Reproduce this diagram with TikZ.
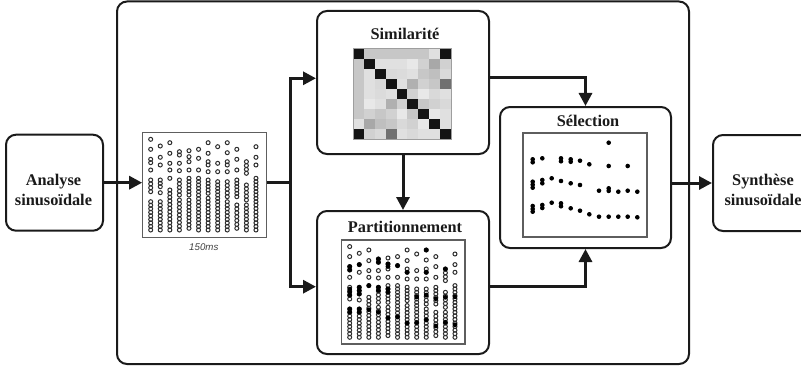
\documentclass[tikz,border=0pt]{standalone}
\usepackage{fontspec}
\setmainfont{Liberation Serif}
\newfontfamily\labelsans{Liberation Sans}
\usetikzlibrary{arrows.meta}
\definecolor{ink}{HTML}{1A1A1A}
\definecolor{framegray}{HTML}{5E5E5E}
\definecolor{dotgray}{HTML}{2E2E2E}
\tikzset{
  block/.style={draw=ink, line width=2pt, rounded corners=10pt, fill=white, inner sep=0pt},
  blocktitle/.style={font=\fontsize{16.3}{19.5}\selectfont\bfseries, text=ink, inner sep=0pt},
  conn/.style={draw=ink, line width=3pt, -{Triangle[length=13pt,width=13pt]}, line join=miter},
  imgframe/.style={draw=framegray, line width=1.1pt, fill=white, inner sep=0pt},
  spot/.style={draw=dotgray, line width=1pt},
  fullspot/.style={fill=black},
}
\newcommand{\specdots}[2]{%
 \foreach \c/\L in {
  1/{6.6/6.6,16.6/16.6,26.6/30,37.3/37.3,47.3/59,69/97.3},
  2/{13.3/13.3,24.6/24.6,32.3/32.3,47.3/54,60/60,69/97.3},
  3/{10/10,20.6/20.6,30.6/30.6,37.3/37.3,45.6/45.6,57.3/97.3},
  4/{19/22.3,30.6/30.6,38/38,47.3/62.3,67.3/97.3},
  5/{18/18,24/29,37.3/37.3,45.6/62.3,67.3/95.6},
  6/{16.6/16.6,25.6/25.6,37.3/37.3,45.6/55.6,59/97.3},
  7/{10/10,20.6/20.6,29/32.3,39/39,47.3/60.6,65.6/97.3},
  8/{14/14,30.6/30.6,39/39,49/69,72.3/97.3},
  9/{10/10,20/20,29/32.3,39/39,49/64,69/97.3},
  10/{16.6/16.6,26.6/26.6,37.3/37.3,47.3/64,72.3/95.6},
  11/{29/40.6,52.3/67.3,72.3/97.3},
  12/{14/14,24.6/24.6,32.3/32.3,45.6/69,72.3/97.3}}{%
   \foreach \a/\b in \L {%
     \pgfmathtruncatemacro{\n}{round((\b-\a)/3.6)}%
     \foreach \k in {0,...,\n}{%
       \pgfmathsetmacro{\yy}{\a+\k*(\b-\a)/max(\n,1)}%
       \draw[spot] (#1+8+9.57*\c-9.57, #2+\yy) circle[radius=2pt];
     }}}}
\newcommand{\partfill}[2]{%
 \foreach \c/\y in {1/26.6,1/30,1/49.2,1/52.2,1/55.2,1/69,1/72,
   2/24.6,2/47.3,2/50.6,2/54,2/69,2/72,
   3/45.6,3/69.7,
   4/19,4/22.3,4/47.3,4/50.3,4/72.3,
   5/24,5/26.5,5/49,5/52,5/78,
   6/25.6,6/77,
   7/32.3,7/83,
   8/57,8/82.5,
   9/10,9/32.3,9/55,9/80,
   10/58.7,10/86,
   11/29,11/57.3,11/82.3,
   12/56.8,12/84.7}{%
   \fill[fullspot] (#1+8+9.57*\c-9.57, #2+\y) circle[radius=2.4pt];
 }}
\begin{document}
\begin{tikzpicture}[x=1pt,y=-1pt]
\useasboundingbox (0,0) rectangle (801,369);
\clip (0,0) rectangle (801,369);
% outer frame
\draw[draw=ink, line width=2pt, rounded corners=10pt] (117,1.5) rectangle (689,364);
% side blocks
\node[block, minimum width=97pt, minimum height=96pt] (analyse) at (54.5,182.7) {};
\node[blocktitle, align=center] (analysetxt) at (53.5,190) {Analyse\\sinusoïdale};
\node[block, minimum width=100pt, minimum height=96pt] (synth) at (763,183) {};
\node[blocktitle, align=center] (synthtxt) at (763,190) {Synthèse\\sinusoïdale};
% input spectrogram
\node[imgframe, minimum width=124pt, minimum height=104.6pt] (pic1) at (204.7,185) {};
\specdots{142.7}{132.7}
\node[font=\labelsans\itshape\fontsize{9.7}{11}\selectfont, text=black!75, anchor=base, inner sep=0pt] (dur) at (203.8,250) {150ms};
% similarity block
\node[block, minimum width=172pt, minimum height=143pt] (sim) at (403,82.5) {};
\node[blocktitle, anchor=base] (simtitle) at (405,39.3) {Similarité};
\node[inner sep=0pt, minimum width=98pt, minimum height=90pt] (simimg) at (402,94) {};
\foreach \row [count=\r from 0] in {
  {92,22,22,22,22,22,22,12,92},
  {22,92,12,12,12,9,18,34,18},
  {22,12,92,15,14,12,22,25,15},
  {22,12,15,92,12,31,18,22,56},
  {22,12,14,12,92,18,9,15,12},
  {22,9,12,31,18,92,22,18,15},
  {22,18,22,18,9,22,92,9,12},
  {12,34,25,22,15,18,9,92,12},
  {92,18,15,56,12,15,12,12,92}}{%
  \foreach \v [count=\c from 0] in \row {%
    \fill[black!\v] (353+\c*10.889, 49+\r*10) rectangle ++(10.889,10);
  }}
\draw[framegray!60, line width=0.6pt] (simimg.north west) rectangle (simimg.south east);
% partition block
\node[block, minimum width=172pt, minimum height=143pt] (part) at (403,282.5) {};
\node[blocktitle, anchor=base] (parttitle) at (405,232.7) {Partitionnement};
\node[imgframe, minimum width=123.3pt, minimum height=104pt] (partimg) at (403.35,292) {};
\specdots{341.7}{240}
\partfill{341.7}{240}
% selection block
\node[block, minimum width=171pt, minimum height=141pt] (sel) at (585.5,177.5) {};
\node[blocktitle, anchor=base] (seltitle) at (588,126.7) {Sélection};
\node[imgframe, minimum width=124pt, minimum height=104pt] (selimg) at (585,185) {};
\foreach \px/\py in {608.7/142.7,
  532.7/159.3,532.7/162.3,542.3/158.3,561/158.3,561/161.3,570.7/159.3,570.7/161.8,580/160.7,589.3/164.3,608.7/166,627.7/166,
  532.7/181.7,532.7/184.7,532.7/187.7,542.3/180,542.3/183.3,551.7/178.3,561/181,570.7/183.3,580/185,599/190.7,608.7/188.3,608.7/190.9,618.3/191.7,627.7/190.7,637.3/191.7,
  532.7/206,532.7/209,532.7/211.7,542.3/205,542.3/208,551.7/202.7,561/203.3,561/206.3,570.7/208.3,580/210.7,589.3/214.3,599/216.7,608.7/216.7,618.3/216.7,627.7/216.7,637.3/217.3}{%
  \fill[fullspot] (\px,\py) circle[radius=2.3pt];
}
% connectors
\coordinate (split) at (290,182.7);
\draw[conn] (analyse.east) -- (analyse.east -| pic1.west);
\draw[conn] (split -| pic1.east) -- (split) |- ([yshift=4.2pt]sim.west);
\draw[conn] (split) |- ([yshift=-4.2pt]part.west);
\draw[conn] (sim.south) -- (part.north);
\draw[conn] ([yshift=5.2pt]sim.east) -| (sel.north);
\draw[conn] ([yshift=-4.2pt]part.east) -| (sel.south);
\draw[conn] (sel.east |- synth.west) -- (synth.west);
\end{tikzpicture}
\end{document}
